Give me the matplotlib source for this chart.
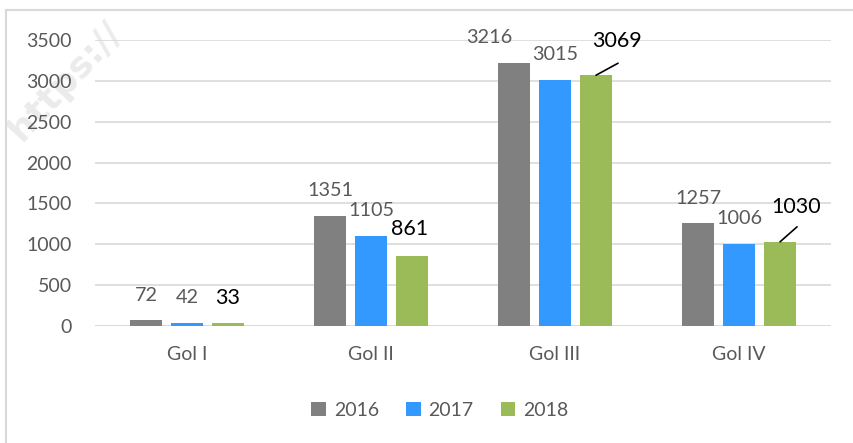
#!/usr/bin/env python
"""
Grouped bar chart: counts per group (Gol I - IV) for 2016-2018.
"""

import matplotlib
matplotlib.use("Agg")
import matplotlib.pyplot as plt
from matplotlib.lines import Line2D
import numpy as np

categories = ["Gol I", "Gol II", "Gol III", "Gol IV"]
years = ["2016", "2017", "2018"]
v2016 = [72, 1351, 3216, 1257]
v2017 = [42, 1105, 3015, 1006]
v2018 = [33, 861, 3069, 1030]
yticks = [0, 500, 1000, 1500, 2000, 2500, 3000, 3500]

colors = ["#808080", "#3399ff", "#9bbb59"]
txtgray = "#595959"
gridgray = "#d9d9d9"
font = "Lato"

W, H, DPI = 854, 443, 100
px = 72.0 / DPI  # pixels -> points

fig = plt.figure(figsize=(W / DPI, H / DPI), dpi=DPI)
ax = fig.add_axes([95 / W, 1 - 326 / H, 736 / W, 286 / H])
ax.patch.set_alpha(0)

x = np.arange(len(categories))
width = 0.174
step = 0.223
series = [v2016, v2017, v2018]

for i, vals in enumerate(series):
    ax.bar(x + (i - 1) * step, vals, width, color=colors[i], label=years[i], zorder=3)

ax.set_xlim(-0.5, 3.5)
ax.set_ylim(0, 3500)
ax.set_yticks(yticks)
ax.set_xticks(x)
ax.set_xticklabels(categories)
ax.grid(axis="y", color=gridgray, lw=1.2, zorder=0)
for s in ax.spines.values():
    s.set_visible(False)
ax.axhline(0, color=gridgray, lw=1.2, zorder=2)
ax.tick_params(axis="both", length=0, labelsize=14, labelcolor=txtgray)
ax.tick_params(axis="y", pad=23 * px)
ax.tick_params(axis="x", pad=20 * px)
for t in ax.get_xticklabels() + ax.get_yticklabels():
    t.set_fontfamily(font)

# data labels: (series, category) -> pixel offset of label centre from bar top
shifts = {(2, 2): (21, 34), (2, 3): (16, 35), (0, 2): (-25, 26), (2, 1): (-2, 27)}
leaders = {(2, 2): (22, 12), (2, 3): (17, 15)}

for i, vals in enumerate(series):
    for j, v in enumerate(vals):
        dx, dy = shifts.get((i, j), (0, 25))
        if i == 2:
            col, fs = "black", 15.5
        else:
            col, fs = txtgray, 14.3
        ax.annotate(str(v), xy=(j + (i - 1) * step, v), xytext=(dx * px, dy * px),
                    textcoords="offset points", ha="center", va="center",
                    color=col, fontsize=fs, fontfamily=font)
        if (i, j) in leaders:
            lx, ly = leaders[(i, j)]
            ax.annotate("", xy=(j + (i - 1) * step, v), xytext=(lx * px, ly * px),
                        textcoords="offset points",
                        arrowprops=dict(arrowstyle="-", color="black", lw=1.2,
                                        shrinkA=0, shrinkB=0))

leg = ax.legend(loc="center", bbox_to_anchor=(440 / W, 1 - 410 / H),
                bbox_transform=fig.transFigure, ncol=3, frameon=False,
                handlelength=0.75, handleheight=0.75, handletextpad=0.4,
                columnspacing=1.4, prop={"family": font, "size": 14})
for t in leg.get_texts():
    t.set_color(txtgray)

# chart border (cut off at right and bottom)
fig.add_artist(Line2D([6 / W, 6 / W], [0, 1 - 10 / H], color=gridgray, lw=1.5))
fig.add_artist(Line2D([6 / W, 1], [1 - 10 / H, 1 - 10 / H], color=gridgray, lw=1.5))

# faint watermark behind the chart
fig.text(2 / W, 1 - 140 / H, "https://", rotation=47, fontsize=26, color="#ebebeb",
         fontfamily="DejaVu Sans", fontweight="bold", zorder=-1)

fig.savefig("out.png", dpi=DPI)
